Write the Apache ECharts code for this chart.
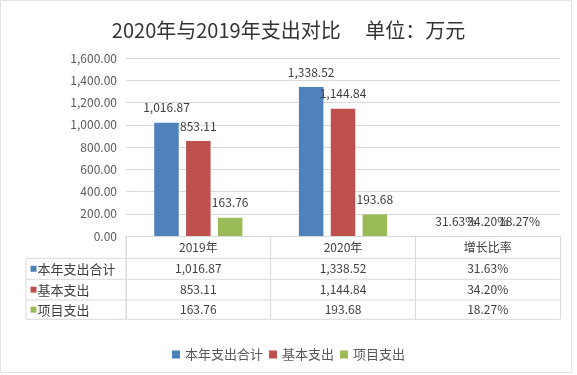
<!DOCTYPE html>
<html>
<head>
<meta charset="utf-8">
<script src="https://cdn.jsdelivr.net/npm/echarts@6/dist/echarts.min.js"></script>
<style>
  html, body { margin: 0; padding: 0; background: #fff; }
  #main { width: 577px; height: 375px; }
</style>
</head>
<body>
<div id="main"></div>
<script>
// data (last item of each series = growth rate)
const categories = ['2019年', '2020年', '增长比率'];
const seriesNames = ['本年支出合计', '基本支出', '项目支出'];
const totalSpend = [1016.87, 1338.52, 0.3163];
const basicSpend = [853.11, 1144.84, 0.3420];
const projectSpend = [163.76, 193.68, 0.1827];
const yTicks = [0, 200, 400, 600, 800, 1000, 1200, 1400, 1600];

const colors = ['#4f81bd', '#c0504d', '#9bbb59'];
const font = '"Noto Sans CJK SC", "Noto Sans", sans-serif';
const allData = [totalSpend, basicSpend, projectSpend];

function fmtNum(v) {
  return v.toFixed(2).replace(/\B(?=(\d{3})+(?!\d))/g, ',');
}
function fmtCell(v, idx) {
  return idx === 2 ? (v * 100).toFixed(2) + '%' : fmtNum(v);
}

const gridTop = 58, gridBottomY = 236, gridLeft = 126, gridRight = 560;
const rowLines = [258.3, 279.3, 300, 319.3];
const tableLeft = 26;

const myChart = echarts.init(document.getElementById('main'), null, { renderer: 'canvas' });

const option = {
  animation: false,
  color: colors,
  textStyle: { fontFamily: font },
  title: {
    text: '2020年与2019年支出对比\u3000 单位：万元',
    left: 'center',
    top: 15,
    textStyle: { fontSize: 20, fontWeight: 'normal', color: '#333', fontFamily: font }
  },
  legend: {
    data: seriesNames,
    left: 'center',
    top: 343,
    icon: 'rect',
    itemWidth: 8,
    itemHeight: 8,
    itemGap: 6,
    textStyle: { fontSize: 13, color: '#595959', fontFamily: font }
  },
  grid: {
    left: gridLeft,
    right: 577 - gridRight,
    top: gridTop,
    bottom: 375 - gridBottomY,
    containLabel: false
  },
  xAxis: {
    type: 'category',
    data: categories,
    axisLine: { lineStyle: { color: '#d9d9d9' } },
    axisTick: { show: true, length: rowLines[3] - gridBottomY, lineStyle: { color: '#d9d9d9' } },
    axisLabel: { margin: 5, fontSize: 12, color: '#404040', fontFamily: font }
  },
  yAxis: {
    type: 'value',
    min: yTicks[0],
    max: yTicks[yTicks.length - 1],
    interval: 200,
    axisLine: { show: false },
    axisTick: { show: false },
    splitLine: { lineStyle: { color: '#d9d9d9' } },
    axisLabel: {
      margin: 9,
      fontSize: 12,
      color: '#595959',
      fontFamily: font,
      formatter: v => fmtNum(v)
    }
  },
  series: seriesNames.map((name, i) => ({
    name: name,
    type: 'bar',
    data: allData[i],
    barWidth: 24.5,
    barGap: '30%',
    label: {
      show: true,
      position: 'top',
      distance: 9,
      fontSize: 12,
      color: '#404040',
      fontFamily: font,
      formatter: p => fmtCell(p.value, p.dataIndex)
    }
  })),
  graphic: []
};

myChart.setOption(option);

// data table under the plot, placed with the category axis
const lineStyle = { stroke: '#d9d9d9', lineWidth: 1 };
const g = [];
rowLines.forEach(y => {
  g.push({ type: 'line', shape: { x1: tableLeft, y1: y, x2: gridRight, y2: y }, style: lineStyle, silent: true });
});
g.push({ type: 'line', shape: { x1: tableLeft, y1: rowLines[0], x2: tableLeft, y2: rowLines[3] }, style: lineStyle, silent: true });
g.push({ type: 'line', shape: { x1: gridLeft, y1: gridBottomY, x2: gridLeft, y2: rowLines[3] }, style: lineStyle, silent: true });

seriesNames.forEach((name, r) => {
  const yc = (rowLines[r] + rowLines[r + 1]) / 2;
  g.push({ type: 'rect', shape: { x: 30.5, y: yc - 3, width: 6, height: 6 }, style: { fill: colors[r] }, silent: true });
  g.push({
    type: 'text', x: 37.5, y: yc,
    style: { text: name, fontSize: 13, fill: '#404040', fontFamily: font, verticalAlign: 'middle', align: 'left' },
    silent: true
  });
  categories.forEach((c, ci) => {
    const xc = myChart.convertToPixel({ xAxisIndex: 0 }, c);
    g.push({
      type: 'text', x: xc, y: yc,
      style: { text: fmtCell(allData[r][ci], ci), fontSize: 12, fill: '#404040', fontFamily: font, align: 'center', verticalAlign: 'middle' },
      silent: true
    });
  });
});
// light chart-area frame
g.push({ type: 'rect', shape: { x: 0.5, y: 0.5, width: 571, height: 372 }, style: { fill: 'none', stroke: '#e3e3e3', lineWidth: 1 }, silent: true });

myChart.setOption({ graphic: g });
</script>
</body>
</html>
